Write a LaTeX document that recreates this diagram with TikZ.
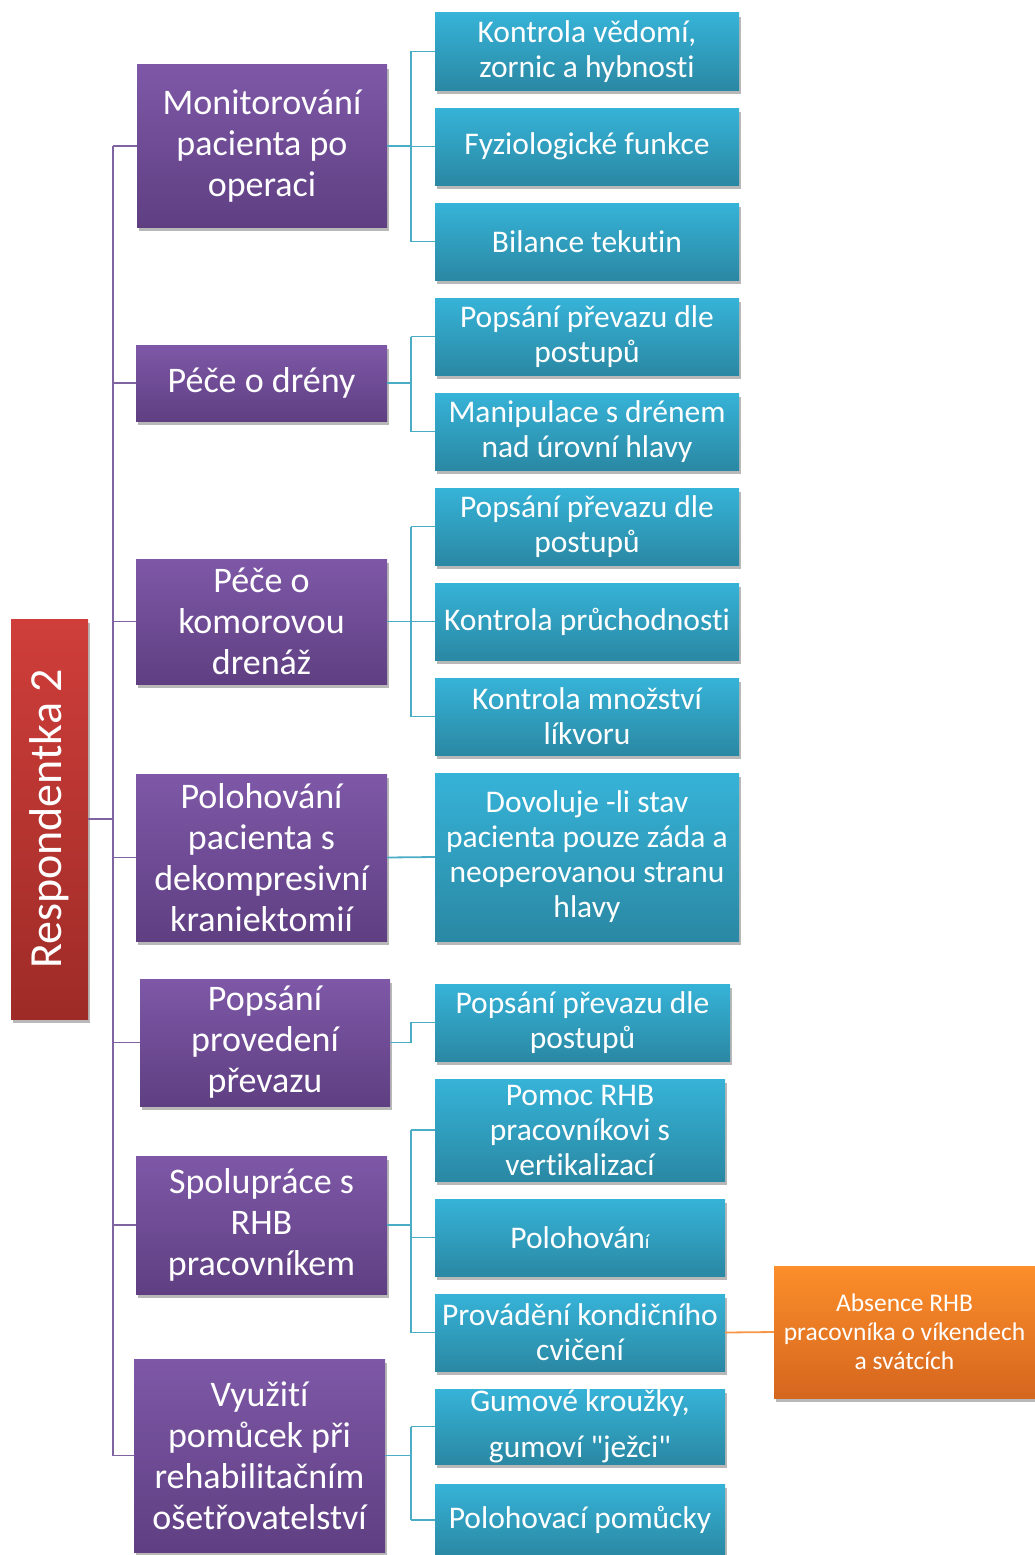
\documentclass[tikz,border=0pt]{standalone}
\usepackage{fontspec}
\setmainfont{Carlito}[Ligatures={TeX,NoCommon}]
\usetikzlibrary{shadows}

\definecolor{redTop}{HTML}{CF3E3A}
\definecolor{redBot}{HTML}{9E2B27}
\definecolor{purTop}{HTML}{7E58A7}
\definecolor{purBot}{HTML}{5F3F82}
\definecolor{bluTop}{HTML}{36B3D8}
\definecolor{bluBot}{HTML}{2A88A3}
\definecolor{orgTop}{HTML}{FC8E2B}
\definecolor{orgBot}{HTML}{D5661E}
\definecolor{purLine}{HTML}{8064A2}
\definecolor{bluLine}{HTML}{4BACC6}
\definecolor{orgLine}{HTML}{F79646}

\begin{document}
\begin{tikzpicture}[x=1pt,y=-1pt,
  card/.style={rectangle, inner sep=0pt, align=center, text=white,
    drop shadow={shadow xshift=2pt, shadow yshift=-4pt, opacity=0.28, fill=black}},
  rootbox/.style={card, top color=redTop, bottom color=redBot,
    font=\fontsize{46}{50}\selectfont},
  topic/.style={card, top color=purTop, bottom color=purBot,
    font=\fontsize{36}{41}\selectfont},
  item/.style={card, top color=bluTop, bottom color=bluBot,
    font=\fontsize{31.5}{35}\selectfont},
  note/.style={card, top color=orgTop, bottom color=orgBot,
    font=\fontsize{25.5}{29}\selectfont},
  pline/.style={draw=purLine, line width=1.8pt},
  bline/.style={draw=bluLine, line width=1.8pt},
  oline/.style={draw=orgLine, line width=1.8pt}]

\useasboundingbox (0,0) rectangle (1035,1555);

% root
\node[rootbox, minimum width=77pt, minimum height=400pt] (root) at (49.5,819)
  {\rotatebox{90}{Respondentka 2}};

% main topics
\node[topic, minimum width=250pt, minimum height=162pt] (m1) at (262,146)
  {Monitorování\\pacienta po\\operaci};
\node[topic, minimum width=251pt, minimum height=76pt] (m2) at (261.5,383)
  {Péče o drény};
\node[topic, minimum width=251pt, minimum height=125pt] (m3) at (261.5,621.5)
  {Péče o\\komorovou\\drenáž};
\node[topic, minimum width=251pt, minimum height=167pt] (m4) at (261.5,857.5)
  {Polohování\\pacienta s\\dekompresivní\\kraniektomií};
\node[topic, minimum width=250pt, minimum height=127pt] (m5) at (265,1042.5)
  {Popsání\\provedení\\převazu};
\node[topic, minimum width=251pt, minimum height=138pt] (m6) at (261.5,1225)
  {Spolupráce s\\RHB\\pracovníkem};
\node[topic, minimum width=251pt, minimum height=193pt] (m7) at (259.5,1455.5)
  {Využití\\pomůcek při\\rehabilitačním\\ošetřovatelství};

% detail items
\node[item, minimum width=304pt, minimum height=77pt] (a1) at (587,51.5)
  {Kontrola vědomí,\\zornic a hybnosti};
\node[item, minimum width=304pt, minimum height=77pt] (a2) at (587,146.5)
  {Fyziologické funkce};
\node[item, minimum width=304pt, minimum height=77pt] (a3) at (587,241.5)
  {Bilance tekutin};

\node[item, minimum width=304pt, minimum height=77pt] (b1) at (587,336.5)
  {Popsání převazu dle\\postupů};
\node[item, minimum width=304pt, minimum height=77pt] (b2) at (587,431.5)
  {Manipulace s drénem\\nad úrovní hlavy};

\node[item, minimum width=304pt, minimum height=77pt] (c1) at (587,526.5)
  {Popsání převazu dle\\postupů};
\node[item, minimum width=304pt, minimum height=77pt] (c2) at (587,621.5)
  {Kontrola průchodnosti};
\node[item, minimum width=304pt, minimum height=77pt] (c3) at (587,716.5)
  {Kontrola množství\\líkvoru};

\node[item, minimum width=304pt, minimum height=168pt] (d1) at (587,857)
  {Dovoluje -li stav\\pacienta pouze záda a\\neoperovanou stranu\\hlavy};

\node[item, minimum width=295pt, minimum height=77pt] (e1) at (582.5,1022.5)
  {Popsání převazu dle\\postupů};

\node[item, minimum width=290pt, minimum height=102pt] (f1) at (580,1130)
  {Pomoc RHB\\pracovníkovi s\\vertikalizací};
\node[item, minimum width=290pt, minimum height=77pt] (f2) at (580,1237.5)
  {Polohován{\fontsize{20}{20}\selectfont í}};
\node[item, minimum width=290pt, minimum height=77pt] (f3) at (580,1332.5)
  {Provádění kondičního\\cvičení};

\node[note, minimum width=261pt, minimum height=132pt] (o1) at (904.5,1332)
  {Absence RHB\\pracovníka o víkendech\\a svátcích};

\node[item, minimum width=290pt, minimum height=75pt,
  font=\fontsize{31.5}{46}\selectfont] (g1) at (580,1426.5)
  {Gumové kroužky,\\gumoví \textquotedbl ježci\textquotedbl};
\node[item, minimum width=290pt, minimum height=72pt] (g2) at (580,1520)
  {Polohovací pomůcky};

% trunk from the root to the main topics
\coordinate (tx) at (113,0);
\draw[pline] (root.east) -- (root.east -| tx);
\draw[pline] (m1.west -| tx) -- (m7.west -| tx);
\foreach \m in {m1,m2,m3,m4,m5,m6,m7}
  \draw[pline] (\m.west) -- (\m.west -| tx);

% branches from topics to items
\coordinate (bx) at (411,0);
\draw[bline] (m1.east) -- (m1.east -| bx);
\draw[bline] (a1.west -| bx) -- (a3.west -| bx);
\foreach \i in {a1,a2,a3} \draw[bline] (\i.west) -- (\i.west -| bx);

\draw[bline] (m2.east) -- (m2.east -| bx);
\draw[bline] (b1.west -| bx) -- (b2.west -| bx);
\foreach \i in {b1,b2} \draw[bline] (\i.west) -- (\i.west -| bx);

\draw[bline] (m3.east) -- (m3.east -| bx);
\draw[bline] (c1.west -| bx) -- (c3.west -| bx);
\foreach \i in {c1,c2,c3} \draw[bline] (\i.west) -- (\i.west -| bx);

\draw[bline] (m4.east) -- (d1.west);

\draw[bline] (m5.east) -- (m5.east -| bx) -- (e1.west -| bx) -- (e1.west);

\draw[bline] (m6.east) -- (m6.east -| bx);
\draw[bline] (f1.west -| bx) -- (f3.west -| bx);
\foreach \i in {f1,f2,f3} \draw[bline] (\i.west) -- (\i.west -| bx);

\draw[bline] (m7.east) -- (m7.east -| bx);
\draw[bline] (g1.west -| bx) -- (g2.west -| bx);
\foreach \i in {g1,g2} \draw[bline] (\i.west) -- (\i.west -| bx);

\draw[oline] (f3.east) -- (o1.west);

\end{tikzpicture}
\end{document}
